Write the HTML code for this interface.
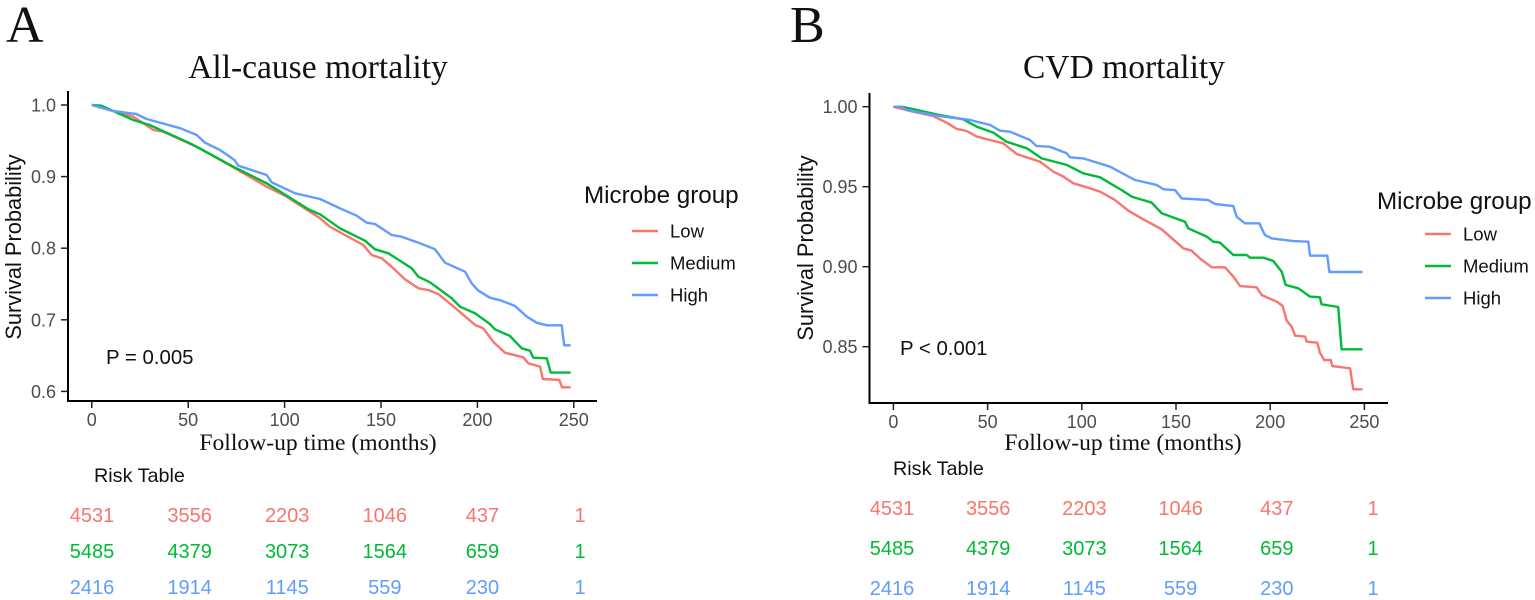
<!DOCTYPE html>
<html lang="en">
<head>
<meta charset="utf-8">
<title>Survival curves by microbe group</title>
<style>
html,body{margin:0;padding:0;background:#fff;}
svg{display:block;}
text{font-family:"Liberation Sans",Arial,sans-serif;}
.serif{font-family:"Liberation Serif","Times New Roman",serif;fill:#111;}
</style>
</head>
<body>
<svg id="chart" xmlns="http://www.w3.org/2000/svg" width="1535" height="600" viewBox="0 0 1535 600"></svg>
<script>
// ---------- Data ----------
const groupNames = ['Low', 'Medium', 'High'];
const xTickValues = [0, 50, 100, 150, 200, 250];
const yTicksAll = [0.6, 0.7, 0.8, 0.9, 1.0];
const yTicksCvd = [0.85, 0.90, 0.95, 1.00];

const monthsAllLow = [0,21.5,32,37,56,73.4,90.7,101,118.4,123.5,131.3,140.8,145.2,150.4,155.5,162.4,169.4,174.5,179.7,189.3,198.8,203,208.2,214.3,223.8,226.4,232.5,233.9,242.5,243.9,248.4];
const survAllLow = [1,.9837,.9651,.9627,.9395,.913,.8859,.872,.8418,.83,.8184,.8045,.7905,.7859,.7742,.7566,.744,.7416,.736,.7147,.6927,.6881,.6694,.654,.6476,.6392,.6346,.6173,.616,.6057,.6057];
const monthsAllMedium = [0,5,21.5,30,51,73.4,90.7,113,118.4,128.7,141.7,146.9,153.8,165.9,169.4,175.4,186.7,191,198.8,206.5,209.1,216.9,223,227.3,229,236,238,248.4];
const survAllMedium = [1,.999,.979,.972,.9465,.9138,.8906,.8534,.8473,.8278,.8105,.7985,.7929,.7719,.7602,.7524,.73,.7183,.7091,.6942,.6867,.6774,.6602,.6569,.6471,.6462,.6262,.6262];
const monthsAllHigh = [0,11,23,28.5,46,54.4,58.7,66.5,74,76,90.7,93.3,105.4,118.4,128.7,137.4,142.6,146.9,155.5,160.7,170.2,178,183.2,193.6,197,200.5,206.5,212.6,219.5,225.6,230.7,236,243.7,245,248.4];
const survAllHigh = [1,.9916,.9874,.9804,.9675,.9581,.9474,.9372,.9232,.9152,.9022,.892,.8767,.8687,.8557,.8454,.8356,.8338,.8184,.8161,.8068,.7985,.7798,.7672,.751,.7406,.7309,.7267,.7193,.7044,.696,.6923,.6923,.6644,.6644];

const monthsCvdLow = [0,8.8,21,28.3,33.6,38.9,44.2,51.3,58.3,65.5,77.8,84.9,90.2,95.5,104.4,109.7,117.6,124.7,132.6,142.4,153.9,158.3,162.7,169,176,180.4,184,192.8,195.5,203.5,206.6,208.8,211.4,213.2,218.5,219.4,225,226.4,228.6,232.1,233,242.4,244.1,249];
const survCvdLow = [1,.9973,.9942,.99,.9861,.9848,.9813,.9792,.9771,.9704,.9656,.9594,.9563,.9521,.949,.9469,.9417,.935,.9296,.9234,.9115,.91,.9052,.8996,.8996,.8938,.8879,.8871,.8823,.8781,.8755,.8662,.8625,.8569,.8563,.8531,.8525,.8463,.8417,.8417,.8379,.8365,.8234,.8234];
const monthsCvdMedium = [0,4.4,12.4,23,37,44.2,53,60,70.8,78.7,92,100.8,109.7,115,121.2,126.5,137.1,142.4,154.8,156.5,166.3,169.8,173.4,180.4,187.5,189.3,196.3,201.6,206.1,208.2,214.9,221.1,226.4,227.3,236.1,237.9,249];
const survCvdMedium = [1,1,.998,.9952,.9921,.9875,.9838,.9781,.974,.9677,.9636,.9584,.9559,.9521,.9479,.9438,.94,.9334,.9281,.924,.9188,.9156,.915,.9073,.9073,.9056,.9056,.9036,.8969,.8886,.8865,.8813,.8809,.8765,.8748,.8484,.8484];
const monthsCvdHigh = [0,4.4,7,23,40.7,51.3,56.6,61.9,72.5,76,83,92,93.7,100.8,115,128.2,139.7,143.3,149.5,153,167.1,170.7,180.4,182.2,186.6,194.2,197.2,200.8,212.3,220.2,221.1,230.3,231.4,249];
const survCvdHigh = [1,1,.998,.9944,.9917,.9886,.985,.9844,.9792,.9754,.975,.9709,.9684,.9677,.9625,.9542,.9511,.9484,.9479,.9427,.9417,.9392,.9379,.9312,.9271,.9271,.9198,.9177,.916,.9156,.9069,.9069,.8967,.8967];

const riskLow = [4531, 3556, 2203, 1046, 437, 1];
const riskMedium = [5485, 4379, 3073, 1564, 659, 1];
const riskHigh = [2416, 1914, 1145, 559, 230, 1];

// ---------- Drawing ----------
const NS = 'http://www.w3.org/2000/svg';
const svg = document.getElementById('chart');
const colors = ['#F8766D', '#00BA38', '#619CFF'];
const groupKeys = ['low', 'medium', 'high'];

function add(tag, attrs, parent, txt) {
  const el = document.createElementNS(NS, tag);
  for (const k in attrs) el.setAttribute(k, attrs[k]);
  if (txt !== undefined) el.textContent = txt;
  (parent || svg).appendChild(el);
  return el;
}

function drawPanel(p) {
  const g = add('g', {});
  
  
  const X = m => p.x0 + m * p.xk;
  const Y = s => p.y1 + (p.s1 - s) * p.yk;

  const letter = add('text', {x: p.letterX, y: 42, 'font-size': 52, class: 'serif'}, g, p.letter);
  
  

  const title = add('text', {x: p.titleX, y: 78, 'font-size': 33.5, 'text-anchor': 'middle', class: 'serif'}, g, p.title);
  
  

  const yAxis = add('line', {x1: p.axisX, x2: p.axisX, y1: p.axisTop, y2: p.axisY + 1, stroke: '#000', 'stroke-width': 2}, g);
  
  
  const xAxis = add('line', {x1: p.axisX - 1, x2: p.axisRight, y1: p.axisY, y2: p.axisY, stroke: '#000', 'stroke-width': 2}, g);
  
  

  xTickValues.forEach(v => {
    const t = add('line', {x1: X(v), x2: X(v), y1: p.axisY, y2: p.axisY + 7, stroke: '#222', 'stroke-width': 1.5}, g);
    
    
    const l = add('text', {x: X(v), y: p.axisY + 25, 'font-size': 18, fill: '#4d4d4d', 'text-anchor': 'middle'}, g, String(v));
    
    
  });
  p.yTicks.forEach(v => {
    const t = add('line', {x1: p.axisX - 7, x2: p.axisX, y1: Y(v), y2: Y(v), stroke: '#222', 'stroke-width': 1.5}, g);
    
    
    const l = add('text', {x: p.axisX - 12, y: Y(v) + 6.5, 'font-size': 18, fill: '#4d4d4d', 'text-anchor': 'end'}, g, v.toFixed(p.yDigits));
    
    
  });

  const xTitle = add('text', {x: p.xTitleX, y: p.xTitleY, 'font-size': 23.6, 'text-anchor': 'middle', class: 'serif'}, g, 'Follow-up time (months)');
  
  
  const yTitle = add('text', {transform: 'translate(' + p.yTitleX + ',' + p.yTitleY + ') rotate(-90)', 'font-size': 21.8, fill: '#111', 'text-anchor': 'middle'}, g, 'Survival Probability');
  
  

  p.series.forEach((s, i) => {
    const d = s.months.map((m, j) => (j ? 'L' : 'M') + X(m).toFixed(1) + ' ' + Y(s.surv[j]).toFixed(1)).join('');
    const path = add('path', {d: d, fill: 'none', stroke: colors[i], 'stroke-width': 2.4, 'stroke-linejoin': 'round'}, g);
    
    
  });

  const pv = add('text', {x: p.pX, y: p.pY, 'font-size': 20.4, fill: '#111'}, g, p.pText);
  
  

  const legend = add('g', {}, g);
  
  
  const lt = add('text', {x: p.legX, y: p.legTitleY, 'font-size': 24.2, fill: '#111'}, legend, 'Microbe group');
  
  
  groupNames.forEach((n, i) => {
    const y = p.legY + i * 32;
    const ln = add('line', {x1: p.legX + 48, x2: p.legX + 74, y1: y, y2: y, stroke: colors[i], 'stroke-width': 2.6}, legend);
    
    
    const tx = add('text', {x: p.legX + 86, y: y + 6.5, 'font-size': 18.5, fill: '#111'}, legend, n);
    
    
  });

  const rt = add('text', {x: p.riskTitleX, y: p.riskTitleY, 'font-size': 19.8, fill: '#111'}, g, 'Risk Table');
  
  
  [riskLow, riskMedium, riskHigh].forEach((row, i) => {
    row.forEach((v, j) => {
      const c = add('text', {x: p.riskX0 + j * p.riskDx, y: p.riskRows[i], 'font-size': 20, fill: colors[i], 'text-anchor': 'middle'}, g, String(v));
      
      
    });
  });
}

drawPanel({
  key: 'all-cause', letter: 'A', letterX: 6, title: 'All-cause mortality', titleX: 318,
  x0: 91.8, xk: 1.928, y1: 105, s1: 1, yk: 716, yTicks: yTicksAll, yDigits: 1,
  axisX: 68, axisTop: 91, axisY: 401, axisRight: 597,
  xTitleX: 318, xTitleY: 450, yTitleX: 21, yTitleY: 247,
  pX: 106, pY: 364, pText: 'P = 0.005',
  legX: 584, legTitleY: 203, legY: 231,
  riskTitleX: 94, riskTitleY: 482, riskX0: 92, riskDx: 97.6, riskRows: [522, 558, 594],
  series: [
    {months: monthsAllLow, surv: survAllLow},
    {months: monthsAllMedium, surv: survAllMedium},
    {months: monthsAllHigh, surv: survAllHigh}
  ]
});
drawPanel({
  key: 'cvd', letter: 'B', letterX: 790, title: 'CVD mortality', titleX: 1124,
  x0: 893.4, xk: 1.884, y1: 106.7, s1: 1, yk: 1600, yTicks: yTicksCvd, yDigits: 2,
  axisX: 869.5, axisTop: 93, axisY: 403, axisRight: 1388,
  xTitleX: 1123, xTitleY: 450, yTitleX: 813, yTitleY: 248,
  pX: 900, pY: 355, pText: 'P < 0.001',
  legX: 1377, legTitleY: 209, legY: 234,
  riskTitleX: 893, riskTitleY: 475, riskX0: 892, riskDx: 96.2, riskRows: [515, 555, 595],
  series: [
    {months: monthsCvdLow, surv: survCvdLow},
    {months: monthsCvdMedium, surv: survCvdMedium},
    {months: monthsCvdHigh, surv: survCvdHigh}
  ]
});
</script>
</body>
</html>
